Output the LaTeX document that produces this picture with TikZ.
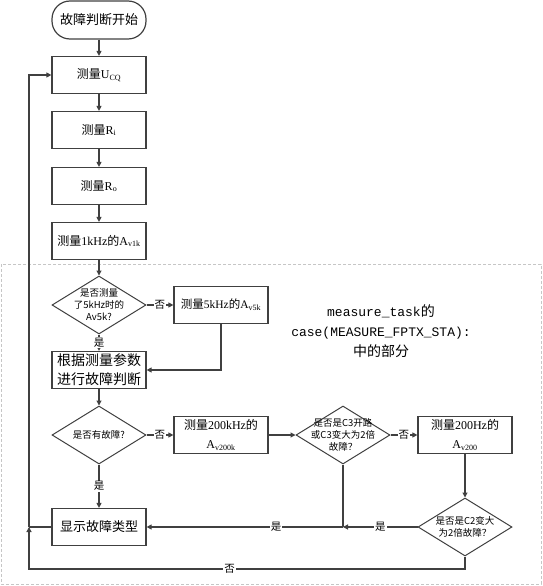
\documentclass[tikz,border=0pt]{standalone}
\usepackage{fontspec}
\setmainfont{Liberation Serif}
\setmonofont{Liberation Mono}
\newfontfamily\cjk{Noto Sans CJK SC}
\usetikzlibrary{shapes.geometric,arrows.meta,positioning}

\tikzset{
    box/.style={draw=black!75, line width=1.2pt, minimum width=94pt, minimum height=37pt, inner sep=0pt, align=center, font=\fontsize{12}{19}\selectfont},
    startbox/.style={box, rounded corners=18pt, minimum height=38pt},
    cond/.style={draw=black!75, line width=1pt, diamond, minimum width=94pt, minimum height=58pt, inner sep=-10pt, align=center, font=\cjk\fontsize{9.5}{12}\selectfont},
    flow/.style={draw=black!75, line width=1.1pt, -{Triangle[length=5pt,width=5pt]}},
    lbl/.style={fill=white, inner sep=1pt, font=\cjk\fontsize{10.5}{11}\selectfont}
}

\begin{document}
\begin{tikzpicture}[x=1pt, y=-1pt]
    \useasboundingbox (0,0) rectangle (542,586);

    %area tratteggiata
    \draw[gray!45, line width=1pt, dash pattern=on 3pt off 2pt] (1,264) rectangle (541,584);
    \node[font=\fontsize{13}{20}\selectfont\ttfamily, align=center] (note) at (381,331)
        {measure\_task{\cjk\fontsize{14}{20}\selectfont 的}\\case(MEASURE\_FPTX\_STA):\\{\cjk\fontsize{14}{20}\selectfont 中的部分}};

    %blocchi
    \node[startbox, font=\cjk\fontsize{13}{15}\selectfont] (start) at (99,20) {故障判断开始};
    \node[box] (ucq) at (99,75) {{\cjk 测量}U\textsubscript{CQ}};
    \node[box] (ri) at (99,130) {{\cjk 测量}R\textsubscript{i}};
    \node[box] (ro) at (99,186) {{\cjk 测量}R\textsubscript{o}};
    \node[box] (a1k) at (99,241) {{\cjk 测量}1kHz{\cjk 的}A\textsubscript{v1k}};
    \node[cond] (d5k) at (99,305) {是否测量\\了5kHz时的\\Av5k?};
    \node[box, font=\fontsize{11.5}{19}\selectfont] (a5k) at (221,305) {{\cjk 测量}5kHz{\cjk 的}A\textsubscript{v5k}};
    \node[box, font=\cjk\fontsize{14}{19}\selectfont] (judge) at (99,370) {根据测量参数\\进行故障判断};
    \node[cond] (dfault) at (99,435) {是否有故障?};
    \node[box] (a200k) at (221,435) {{\cjk 测量}200kHz{\cjk 的}\\A\textsubscript{v200k}};
    \node[cond] (dc3) at (343,435) {是否是C3开路\\或C3变大为2倍\\故障？};
    \node[box] (a200) at (465,435) {{\cjk 测量}200Hz{\cjk 的}\\A\textsubscript{v200}};
    \node[cond] (dc2) at (465,527) {是否是C2变大\\为2倍故障？};
    \node[box, font=\cjk\fontsize{13}{15}\selectfont] (show) at (99,527) {显示故障类型};

    \coordinate (merge) at (343,527);
    \coordinate (back) at (29,527);

    %collegamenti
    \draw[flow] (start) -- (ucq);
    \draw[flow] (ucq) -- (ri);
    \draw[flow] (ri) -- (ro);
    \draw[flow] (ro) -- (a1k);
    \draw[flow] (a1k) -- (d5k);
    \draw[flow] (d5k.east) -- node[lbl]{否} (a5k.west);
    \draw[flow] (d5k.south) -- node[lbl]{是} (judge.north);
    \draw[flow] (a5k.south) |- (judge.east);
    \draw[flow] (judge) -- (dfault);
    \draw[flow] (dfault.east) -- node[lbl]{否} (a200k.west);
    \draw[flow] (dfault.south) -- node[lbl]{是} (show.north);
    \draw[flow] (a200k.east) -- (dc3.west);
    \draw[flow] (dc3.east) -- node[lbl]{否} (a200.west);
    \draw[flow] (a200) -- (dc2);
    \draw[flow] (dc2.west) -- node[lbl]{是} (merge);
    \draw[flow, -] (dc3.south) -- (merge);
    \draw[flow] (merge) -- node[lbl, pos=0.34]{是} (show.east);

    %ritorno
    \draw[flow, -] (show.west) -- (back);
    \draw[flow] (dc2.south) |- node[lbl, pos=0.77]{否} (29,569) -- (back);
    \draw[flow] (back) |- (ucq.west);
\end{tikzpicture}
\end{document}
